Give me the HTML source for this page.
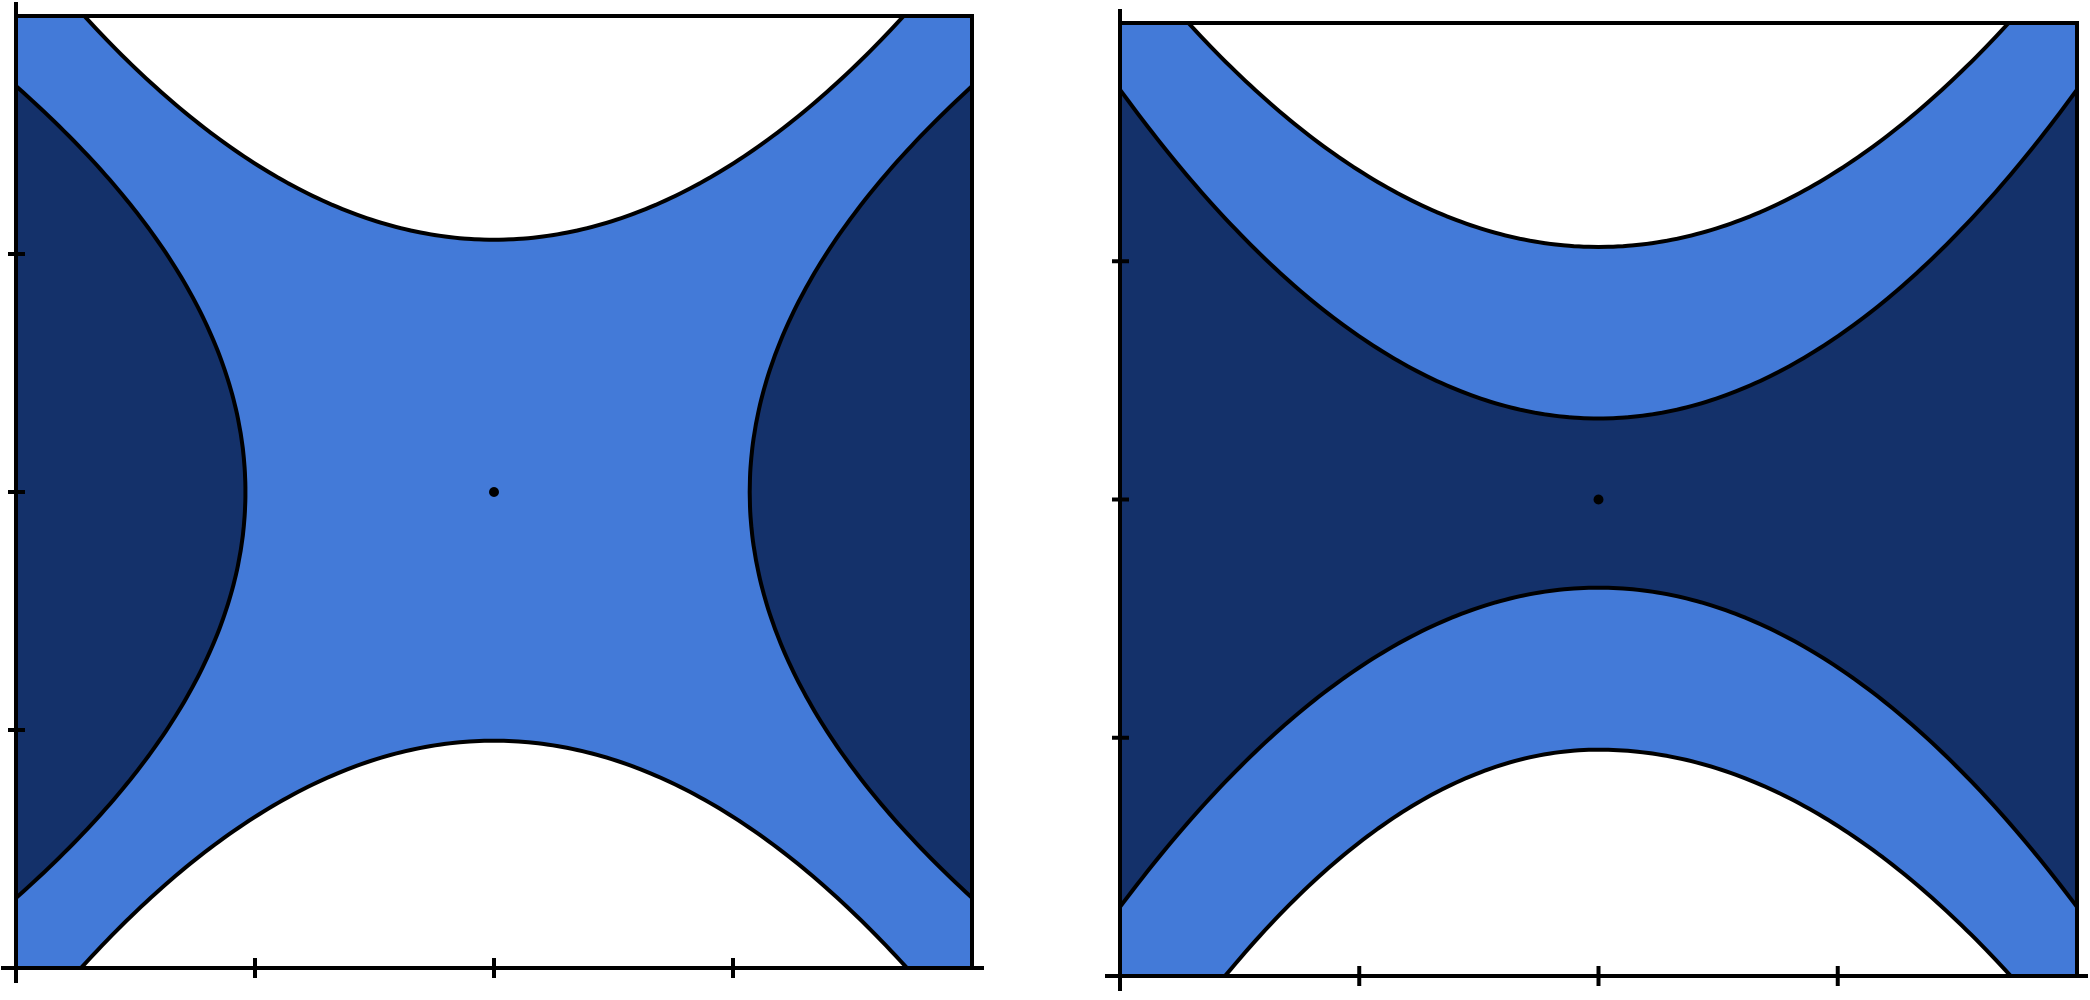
<!DOCTYPE html>
<html><head><meta charset="utf-8"><style>
html,body{margin:0;padding:0;background:#fff;width:2090px;height:1000px;overflow:hidden}
svg{display:block;overflow:hidden}
</style></head><body>
<svg id="chart" width="2090" height="1000" viewBox="0 0 2090 1000" xmlns="http://www.w3.org/2000/svg">
<defs>
<clipPath id="clipL"><rect x="16" y="16" width="956" height="952"/></clipPath>
<clipPath id="clipR"><rect x="1120" y="23" width="957" height="953"/></clipPath>
</defs>
</svg>
<script>
const domainMin = -2, domainMax = 2;
const tickValues = [-1, 0, 1];
// Contour curves as parabolas: [vertex, curvature on negative side, curvature on positive side]
// Left panel
const leftTopWhite = [1.06, 0.32, 0.32];      // y = v + k x^2
const leftBottomWhite = [-1.045, -0.32, -0.32];
const leftLeftDark = [-1.04, -0.33, -0.33];   // x = v + k y^2
const leftRightDark = [1.07, 0.32, 0.32];
// Right panel
const rightTopWhite = [1.06, 0.32, 0.32];
const rightBottomWhite = [-1.05, -0.39, -0.32];
const rightBandUpper = [0.34, 0.345, 0.345];
const rightBandLower = [-0.37, -0.335, -0.335];

const NS = "http://www.w3.org/2000/svg";
const svg = document.getElementById('chart');
const LIGHT = "#437ad8", DARK = "#14316a";
const SW = 4;
const LIM = 2.05;
const clampV = v => Math.max(-LIM, Math.min(LIM, v));

function mk(tag, attrs, parent){
  const e = document.createElementNS(NS, tag);
  for (const k in attrs) e.setAttribute(k, attrs[k]);
  (parent||svg).appendChild(e);
  return e;
}
function panel(x0, y0, x1, y1){
  const sx = v => x0 + (v - domainMin) / (domainMax - domainMin) * (x1 - x0);
  const sy = v => y1 - (v - domainMin) / (domainMax - domainMin) * (y1 - y0);
  return {x0, y0, x1, y1, sx, sy};
}
function hCurve(p, c){
  const pts = [];
  for (let i = 0; i <= 200; i++){
    const x = -LIM + 2 * LIM * i / 200;
    const y = clampV(c[0] + (x < 0 ? c[1] : c[2]) * x * x);
    pts.push([p.sx(x), p.sy(y)]);
  }
  return pts;
}
function vCurve(p, c){
  const pts = [];
  for (let i = 0; i <= 200; i++){
    const y = -LIM + 2 * LIM * i / 200;
    const x = clampV(c[0] + (y < 0 ? c[1] : c[2]) * y * y);
    pts.push([p.sx(x), p.sy(y)]);
  }
  return pts;
}
const ptsStr = pts => pts.map(q => q[0].toFixed(1) + "," + q[1].toFixed(1)).join(" L");

function drawPanel(p, clipId, name, isRight){
  const g = mk('g', {'clip-path': 'url(#' + clipId + ')'});
  
  
  const bg = mk('rect', {x: p.x0, y: p.y0, width: p.x1 - p.x0, height: p.y1 - p.y0, fill: LIGHT}, g);
  
  
  const top = isRight ? rightTopWhite : leftTopWhite;
  const bot = isRight ? rightBottomWhite : leftBottomWhite;
  const st = {stroke: '#000', 'stroke-width': SW, 'stroke-linejoin': 'round'};
  const x0 = p.sx(-LIM), x1 = p.sx(LIM), yT = p.sy(LIM), yB = p.sy(-LIM);
  if (isRight){
    const up = hCurve(p, rightBandUpper), lo = hCurve(p, rightBandLower).reverse();
    const band = mk('path', Object.assign({d: 'M' + ptsStr(up) + ' L' + ptsStr(lo) + ' Z', fill: DARK}, st), g);
    
    
  } else {
    const L = vCurve(p, leftLeftDark);
    const l = mk('path', Object.assign({d: 'M' + ptsStr(L) + ' L' + x0 + ',' + yT + ' L' + x0 + ',' + yB + ' Z', fill: DARK}, st), g);
    
    
    const R = vCurve(p, leftRightDark);
    const r = mk('path', Object.assign({d: 'M' + ptsStr(R) + ' L' + x1 + ',' + yT + ' L' + x1 + ',' + yB + ' Z', fill: DARK}, st), g);
    
    
  }
  const T = hCurve(p, top);
  const t = mk('path', Object.assign({d: 'M' + ptsStr(T) + ' L' + x1 + ',' + yT + ' L' + x0 + ',' + yT + ' Z', fill: '#fff'}, st), g);
  
  
  const B = hCurve(p, bot);
  const b = mk('path', Object.assign({d: 'M' + ptsStr(B) + ' L' + x1 + ',' + yB + ' L' + x0 + ',' + yB + ' Z', fill: '#fff'}, st), g);
  
  

  const fr = mk('path', {d: `M${p.x0},${p.y0} L${p.x1},${p.y0} L${p.x1},${p.y1}`, fill: 'none', stroke: '#000', 'stroke-width': SW});
  
  
  const xa = mk('line', {x1: p.x0 - 15, y1: p.y1, x2: Math.min(p.x1 + 12, 2088), y2: p.y1, stroke: '#000', 'stroke-width': SW});
  
  
  const ya = mk('line', {x1: p.x0, y1: p.y0 - 14, x2: p.x0, y2: Math.min(p.y1 + 15, 996), stroke: '#000', 'stroke-width': SW});
  
  
  tickValues.forEach(v => {
    const tx = mk('line', {x1: p.sx(v), y1: p.y1 - 10, x2: p.sx(v), y2: p.y1 + 10, stroke: '#000', 'stroke-width': SW});
    
    
    const ty = mk('line', {x1: p.x0 - 8, y1: p.sy(v), x2: p.x0 + 9, y2: p.sy(v), stroke: '#000', 'stroke-width': SW});
    
    
  });
  const dot = mk('circle', {cx: p.sx(0), cy: p.sy(0), r: 5, fill: '#000'});
  
  
}
drawPanel(panel(16, 16, 972, 968), 'clipL', 'left-panel', false);
drawPanel(panel(1120, 23, 2077, 976), 'clipR', 'right-panel', true);
</script>
</body></html>
